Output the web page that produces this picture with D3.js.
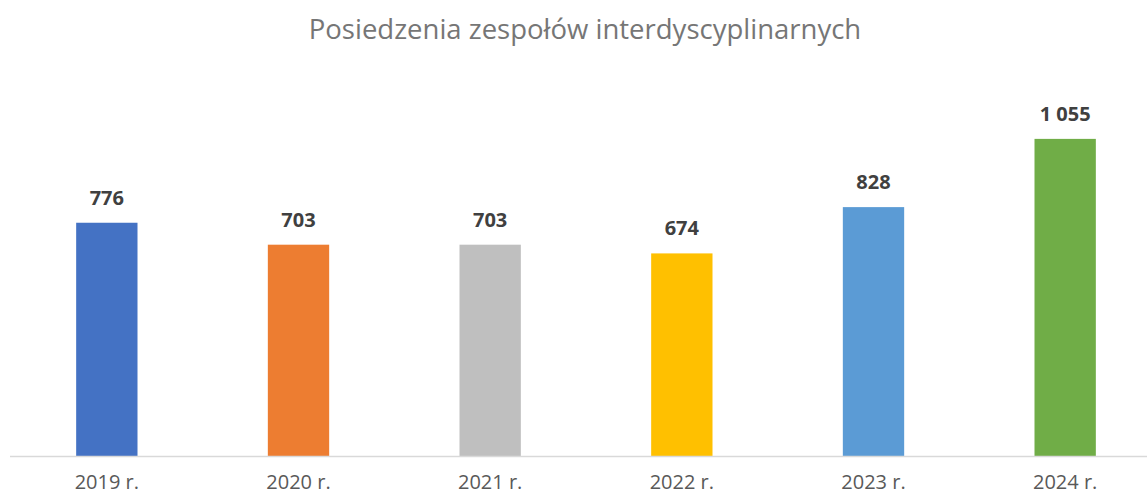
<!DOCTYPE html>
<html>
<head>
<meta charset="utf-8">
<script src="https://cdn.jsdelivr.net/npm/d3@7.9.0/dist/d3.min.js"></script>
<style>
  body { margin: 0; background: #fff; }
  svg { display: block; font-family: "Open Sans", "Noto Sans", sans-serif; }
</style>
</head>
<body>
<svg width="1147" height="495"></svg>
<script>
const years = ['2019 r.', '2020 r.', '2021 r.', '2022 r.', '2023 r.', '2024 r.'];
const meetings = [776, 703, 703, 674, 828, 1055];
const barColors = ['#4472C4', '#ED7D31', '#BFBFBF', '#FFC000', '#5B9BD5', '#70AD47'];

const svg = d3.select('svg');
const baseY = 456;

let x = d3.scaleBand()
    .domain(years)
    .range([11, 1161])
    .paddingInner(0.68)
    .paddingOuter(0.34);

let y = d3.scaleLinear().domain([0, 1200]).range([baseY, 95.3]);

// number format with a space for thousands
const fmt = d3.formatLocale({ decimal: ',', thousands: ' ', grouping: [3], currency: ['', ' zł'] }).format(',d');

// title
svg.append('text')
    .attr('x', 585)
    .attr('y', 39)
    .attr('text-anchor', 'middle')
    .attr('fill', '#767676')
    .attr('font-size', 27.5)
    .text('Posiedzenia zespołów interdyscyplinarnych');

// bars
svg.selectAll('rect.bar')
    .data(meetings)
    .join('rect')
    .attr('class', 'bar')
    .attr('x', (d, i) => x(years[i]))
    .attr('width', x.bandwidth())
    .attr('y', d => y(d))
    .attr('height', d => baseY - y(d))
    .attr('fill', (d, i) => barColors[i]);

// value labels
svg.selectAll('text.val')
    .data(meetings)
    .join('text')
    .attr('class', 'val')
    .attr('x', (d, i) => x(years[i]) + x.bandwidth() / 2)
    .attr('y', d => y(d) - 18)
    .attr('text-anchor', 'middle')
    .attr('font-size', 20)
    .attr('font-weight', 'bold')
    .attr('fill', '#404040')
    .text(d => fmt(d));

// axis line
svg.append('line')
    .attr('x1', 10).attr('x2', 1147)
    .attr('y1', baseY + 0.5).attr('y2', baseY + 0.5)
    .attr('stroke', '#D9D9D9')
    .attr('stroke-width', 1.5);

// category labels
svg.selectAll('text.cat')
    .data(years)
    .join('text')
    .attr('class', 'cat')
    .attr('x', d => x(d) + x.bandwidth() / 2)
    .attr('y', 489)
    .attr('text-anchor', 'middle')
    .attr('font-size', 20)
    .attr('fill', '#595959')
    .text(d => d);
</script>
</body>
</html>
